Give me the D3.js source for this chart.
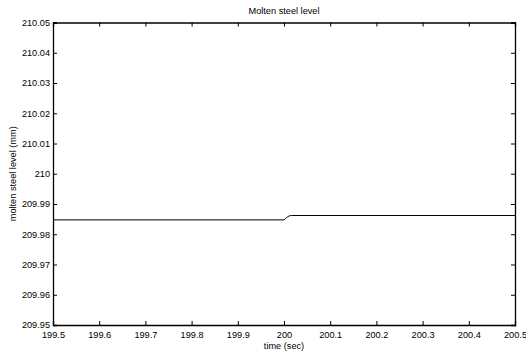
<!DOCTYPE html>
<html>
<head>
<meta charset="utf-8">
<script src="https://cdn.jsdelivr.net/npm/d3@7"></script>
<style>
  body { margin: 0; background: #fff; }
  text { font-family: "Liberation Sans", Arial, sans-serif; fill: #000; }
</style>
</head>
<body>
<svg id="chart" width="526" height="358"></svg>
<script>
// series
const time = [199.5, 200.0, 200.004, 200.008, 200.012, 200.016, 200.5];
const level = [209.98475, 209.98475, 209.9853, 209.9858, 209.9861, 209.9862, 209.9862];

const xTicks = [199.5, 199.6, 199.7, 199.8, 199.9, 200, 200.1, 200.2, 200.3, 200.4, 200.5];
const xTickLabels = ["199.5", "199.6", "199.7", "199.8", "199.9", "200", "200.1", "200.2", "200.3", "200.4", "200.5"];
const yTicks = [209.95, 209.96, 209.97, 209.98, 209.99, 210, 210.01, 210.02, 210.03, 210.04, 210.05];
const yTickLabels = ["209.95", "209.96", "209.97", "209.98", "209.99", "210", "210.01", "210.02", "210.03", "210.04", "210.05"];

const titleText = "Molten steel level";
const xLabelText = "time (sec)";
const yLabelText = "molten steel level (mm)";

const svg = d3.select("#chart");
const plotLeft = 53, plotRight = 515, plotTop = 22.5, plotBottom = 325;
const fs = 9.2, tickLen = 4;

let x = d3.scaleLinear().domain([199.5, 200.5]).range([plotLeft, plotRight]);
let y = d3.scaleLinear().domain([209.95, 210.05]).range([plotBottom, plotTop]);

// bottom and top axes (ticks pointing inward)
svg.append("g")
   .attr("transform", `translate(0,${plotBottom})`)
   .call(d3.axisBottom(x).tickValues(xTicks).tickSize(-tickLen).tickPadding(6)
           .tickFormat((d, i) => xTickLabels[i]));
svg.append("g")
   .attr("transform", `translate(0,${plotTop})`)
   .call(d3.axisTop(x).tickValues(xTicks).tickSize(-tickLen).tickFormat(""));

// left and right axes
svg.append("g")
   .attr("transform", `translate(${plotLeft},0)`)
   .call(d3.axisLeft(y).tickValues(yTicks).tickSize(-tickLen).tickPadding(3)
           .tickFormat((d, i) => yTickLabels[i]));
svg.append("g")
   .attr("transform", `translate(${plotRight},0)`)
   .call(d3.axisRight(y).tickValues(yTicks).tickSize(-tickLen).tickFormat(""));

svg.selectAll(".domain").attr("stroke", "#000").attr("stroke-width", 1.3);
svg.selectAll(".tick line").attr("stroke", "#000").attr("stroke-width", 1);
svg.selectAll(".tick text")
   .attr("font-size", fs)
   .attr("font-family", "Liberation Sans, Arial, sans-serif")
   .attr("fill", "#000");

// the line
let line = d3.line().x((d, i) => x(time[i])).y(d => y(d));
svg.append("path")
   .datum(level)
   .attr("d", line)
   .attr("fill", "none")
   .attr("stroke", "#000")
   .attr("stroke-width", 1);

// titles
svg.append("text")
   .attr("x", (plotLeft + plotRight) / 2).attr("y", 14)
   .attr("text-anchor", "middle").attr("font-size", fs)
   .text(titleText);
svg.append("text")
   .attr("x", (plotLeft + plotRight) / 2).attr("y", 349)
   .attr("text-anchor", "middle").attr("font-size", fs)
   .text(xLabelText);
svg.append("text")
   .attr("transform", `translate(16,${(plotTop + plotBottom) / 2}) rotate(-90)`)
   .attr("text-anchor", "middle").attr("font-size", fs)
   .text(yLabelText);
</script>
</body>
</html>
